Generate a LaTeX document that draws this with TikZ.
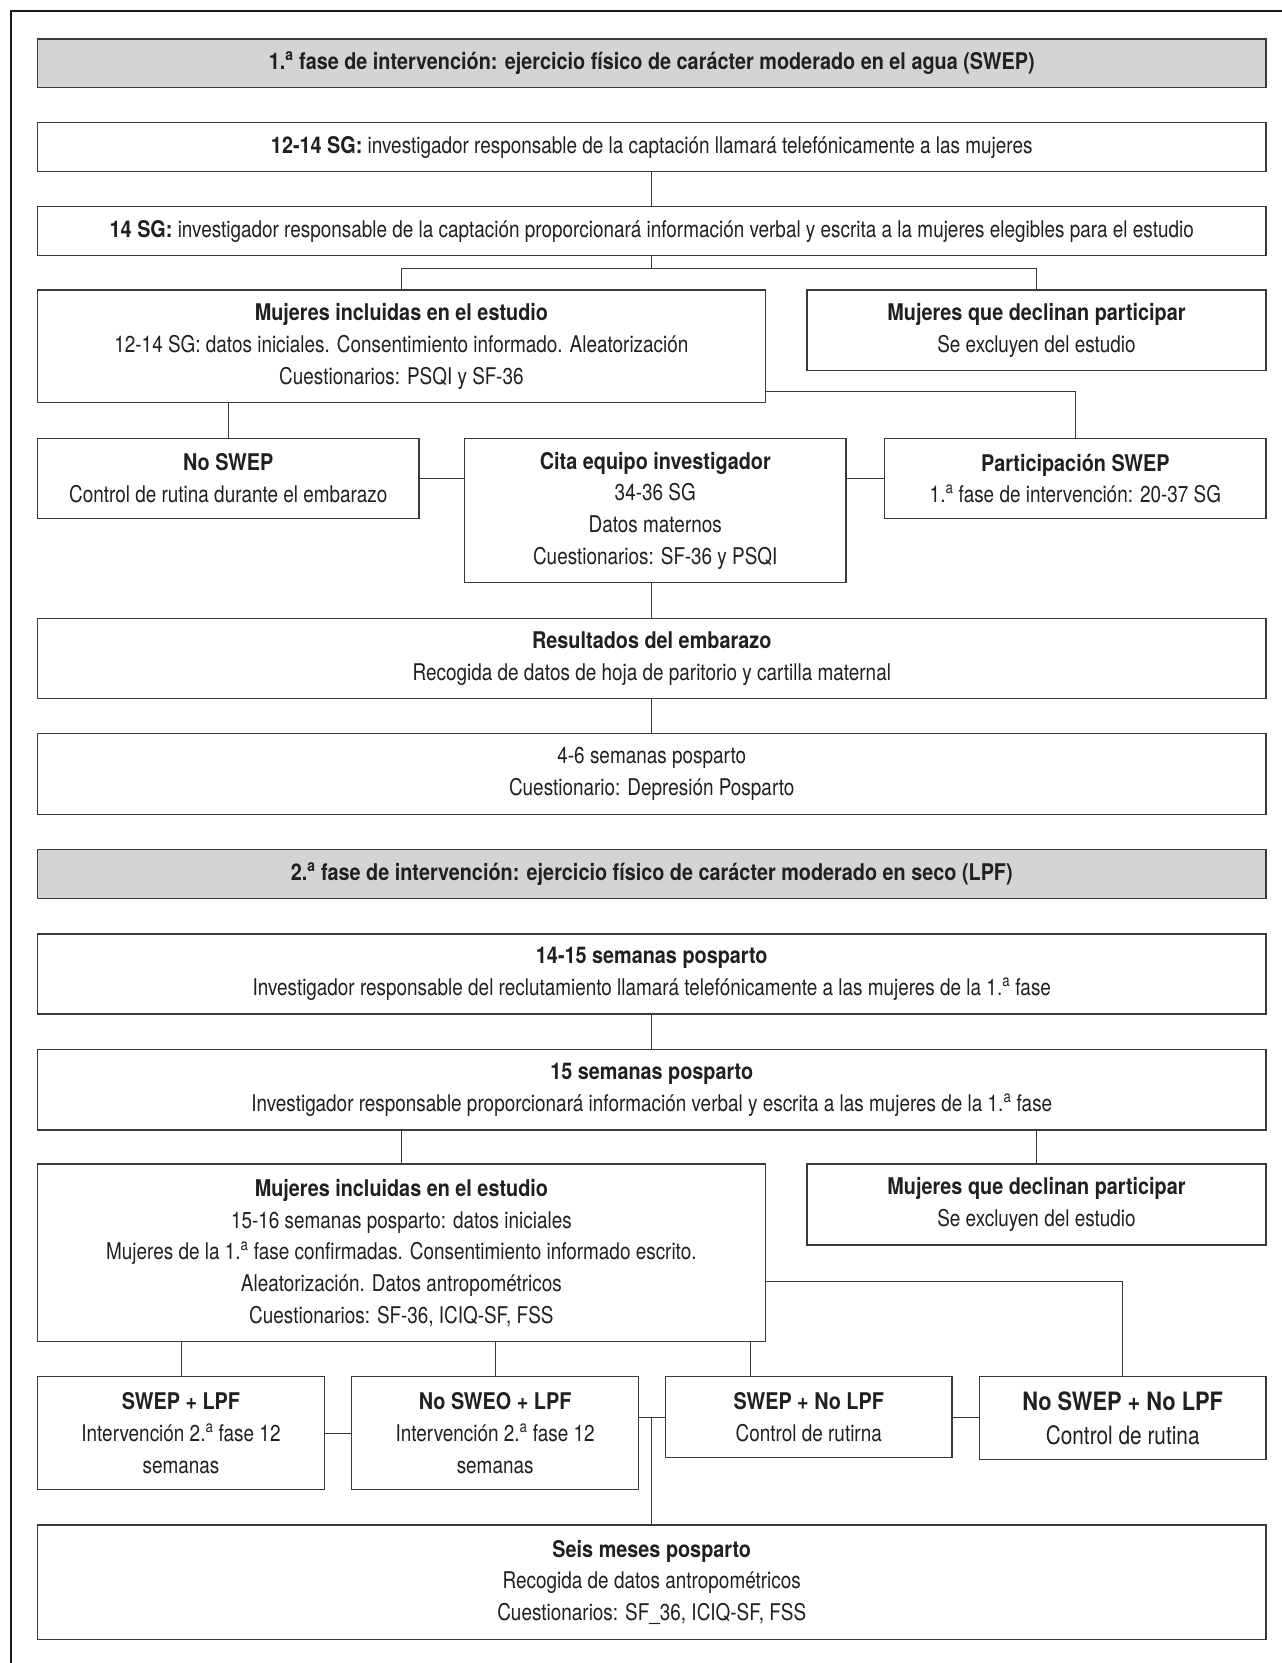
\documentclass[tikz,border=0pt]{standalone}
\usepackage{fontspec}
\setmainfont{TeX Gyre Heros}[FakeStretch=0.823, BoldFeatures={FakeStretch=0.862}]
\usetikzlibrary{calc}
\definecolor{hdrgray}{HTML}{D3D4D6}
\definecolor{linegray}{HTML}{3A3A3A}
\definecolor{txt}{HTML}{231F20}
\newcommand{\ordA}{\textsuperscript{a}}
\begin{document}
\begin{tikzpicture}[x=1pt,y=-1pt,
  box/.style={draw=linegray, line width=1.3pt, fill=white, inner sep=0pt, outer sep=0pt,
    align=center, text=txt, font=\fontsize{23}{31.7}\selectfont},
  hdr/.style={box, fill=hdrgray},
  big/.style={font=\fontsize{25.3}{34}\selectfont},
  conn/.style={draw=linegray, line width=1pt}]
\useasboundingbox (0,0) rectangle (1282,1663);
\fill[white] (0,0) rectangle (1282,1663);
% outer frame
\draw[line width=2.2pt, black!90] (10.7,1663) -- (10.7,11) -- (1282,11);

% phase 1
\node[hdr, minimum width=1228.5pt, minimum height=48.3pt] (H1) at (651.75,63.15)
  {\textbf{1.\ordA{} fase de intervención: ejercicio físico de carácter moderado en el agua (SWEP)}};
\node[box, minimum width=1228.5pt, minimum height=48.6pt] (B1) at (651.75,147)
  {\textbf{12-14 SG:} investigador responsable de la captación llamará telefónicamente a las mujeres};
\node[box, minimum width=1228.5pt, minimum height=48.6pt] (B2) at (651.75,231)
  {\textbf{14 SG:} investigador responsable de la captación proporcionará información verbal y escrita a la mujeres elegibles para el estudio};
\node[box, minimum width=727.8pt, minimum height=112.7pt] (I1) at (401.4,346.35)
  {\textbf{Mujeres incluidas en el estudio}\\12-14 SG: datos iniciales. Consentimiento informado. Aleatorización\\Cuestionarios: PSQI y SF-36};
\node[box, minimum width=459pt, minimum height=80.7pt] (D1) at (1036.5,330.35)
  {\textbf{Mujeres que declinan participar}\\Se excluyen del estudio};
\node[box, minimum width=381.5pt, minimum height=80.4pt] (NS) at (228.25,478.5)
  {\textbf{No SWEP}\\Control de rutina durante el embarazo};
\node[box, minimum width=381.5pt, minimum height=144.4pt] (CI) at (655.25,510.5)
  {\textbf{Cita equipo investigador}\\34-36 SG\\Datos maternos\\Cuestionarios: SF-36 y PSQI};
\node[box, minimum width=381.2pt, minimum height=80.4pt] (PS) at (1075.4,478.5)
  {\textbf{Participación SWEP}\\1.\ordA{} fase de intervención: 20-37 SG};
\node[box, minimum width=1228.5pt, minimum height=80pt] (RE) at (651.75,658.3)
  {\textbf{Resultados del embarazo}\\Recogida de datos de hoja de paritorio y cartilla maternal};
\node[box, minimum width=1228.5pt, minimum height=81pt] (PP) at (651.75,773.8)
  {4-6 semanas posparto\\Cuestionario: Depresión Posparto};

% phase 2
\node[hdr, minimum width=1228.5pt, minimum height=49.4pt] (H2) at (651.75,874)
  {\textbf{2.\ordA{} fase de intervención: ejercicio físico de carácter moderado en seco (LPF)}};
\node[box, minimum width=1228.5pt, minimum height=80pt] (C1) at (651.75,974)
  {\textbf{14-15 semanas posparto}\\Investigador responsable del reclutamiento llamará telefónicamente a las mujeres de la 1.\ordA{} fase};
\node[box, minimum width=1228.5pt, minimum height=80.7pt] (C2) at (651.75,1089.65)
  {\textbf{15 semanas posparto}\\Investigador responsable proporcionará información verbal y escrita a las mujeres de la 1.\ordA{} fase};
\node[box, minimum width=727.8pt, minimum height=177.7pt] (I2) at (401.4,1252.85)
  {\textbf{Mujeres incluidas en el estudio}\\15-16 semanas posparto: datos iniciales\\Mujeres de la 1.\ordA{} fase confirmadas. Consentimiento informado escrito.\\Aleatorización. Datos antropométricos\\Cuestionarios: SF-36, ICIQ-SF, FSS};
\node[box, minimum width=459pt, minimum height=81pt] (D2) at (1036.5,1204.5)
  {\textbf{Mujeres que declinan participar}\\Se excluyen del estudio};
\node[box, minimum width=287pt, minimum height=112.6pt] (G1) at (181,1433)
  {\textbf{SWEP + LPF}\\Intervención 2.\ordA{} fase 12\\semanas};
\node[box, minimum width=286.7pt, minimum height=112.6pt] (G2) at (495.15,1433)
  {\textbf{No SWEO + LPF}\\Intervención 2.\ordA{} fase 12\\semanas};
\node[box, minimum width=286.5pt, minimum height=81pt] (G3) at (808.75,1417.2)
  {\textbf{SWEP + No LPF}\\Control de rutirna};
\node[box, big, minimum width=286.6pt, minimum height=82.6pt] (G4) at (1122.7,1418)
  {\textbf{No SWEP + No LPF}\\Control de rutina};
\node[box, minimum width=1228.5pt, minimum height=114.3pt] (SM) at (651.75,1582.15)
  {\textbf{Seis meses posparto}\\Recogida de datos antropométricos\\Cuestionarios: SF\_36, ICIQ-SF, FSS};

% connectors phase 1
\draw[conn] (B1) -- (B2);
\draw[conn] (B2.south) -- ++(0,13.4);
\draw[conn] (I1.north) -- ++(0,-21.3) -| (D1.north);
\draw[conn] ([yshift=11pt]I1.south east) -| (PS.north);
\draw[conn] (NS.north) -- (NS.north |- I1.south);
\draw[conn] (NS.east) -- (NS.east -| CI.west);
\draw[conn] (PS.west) -- (PS.west -| CI.east);
\draw[conn] (CI.south -| RE.north) -- (RE.north);
\draw[conn] (RE) -- (PP);

% connectors phase 2
\draw[conn] (C1) -- (C2);
\draw[conn] (I2.north) -- (I2.north |- C2.south);
\draw[conn] (D2.north) -- (D2.north |- C2.south);
\draw[conn] (G1.north) -- (G1.north |- I2.south);
\draw[conn] (G2.north) -- (G2.north |- I2.south);
\draw[conn] ([xshift=-58.2pt]G3.north) -- ([xshift=-58.2pt]G3.north |- I2.south);
\draw[conn] ([yshift=60.7pt]I2.south east) -| (G4.north);
\draw[conn] (G1.east) -- (G1.east -| G2.west);
\draw[conn] (G3.west) -- (G3.west -| G2.east);
\draw[conn] (G3.east) -- (G3.east -| G4.west);
\draw[conn] (G3.west -| SM.north) -- (SM.north);
\end{tikzpicture}
\end{document}
